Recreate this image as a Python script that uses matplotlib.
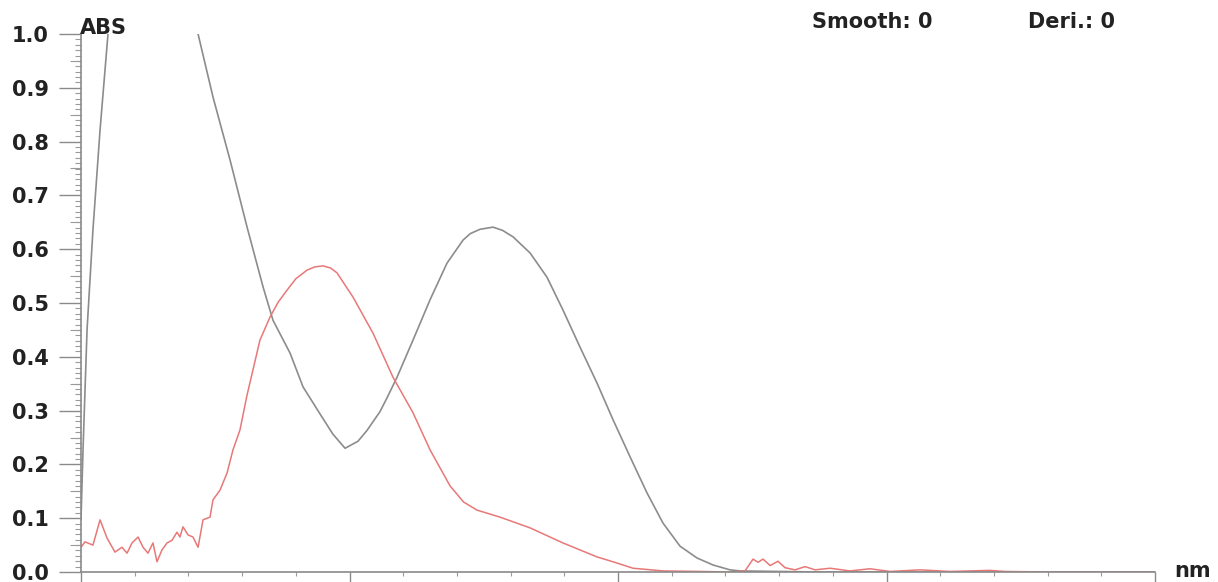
"""
UV-Vis absorbance spectra (two samples), instrument-style plot
"""

import numpy as np
import matplotlib
matplotlib.use('Agg')
import matplotlib.pyplot as plt
from matplotlib.ticker import MultipleLocator, NullFormatter

# wavelength (nm) / absorbance
gray_nm = [200.0, 201.5, 204.5, 208.9, 214.2, 220.1, 232.8, 266.0, 287.2,
           298.3, 311.0, 323.7, 335.6, 343.0, 355.7, 365.4, 378.0, 387.7,
           396.7, 406.3, 413.0, 422.7, 428.0, 435.4, 447.3, 460.0, 472.6,
           484.6, 490.0, 497.2, 506.9, 514.0, 521.8, 534.5, 547.1, 559.0,
           571.7, 584.4, 596.3, 609.0, 621.6, 633.5, 646.2, 658.9, 670.8,
           683.4, 690.9, 750.0, 1000.0]
gray_abs = [0.097, 0.227, 0.450, 0.636, 0.822, 1.0, 1.4, 1.4, 1.0,
            0.883, 0.766, 0.641, 0.530, 0.468, 0.407, 0.344, 0.294, 0.256,
            0.230, 0.243, 0.263, 0.298, 0.324, 0.362, 0.431, 0.506, 0.574,
            0.617, 0.629, 0.637, 0.641, 0.635, 0.623, 0.593, 0.548, 0.487,
            0.418, 0.351, 0.283, 0.214, 0.147, 0.091, 0.048, 0.026, 0.013,
            0.004, 0.002, 0.0, 0.0]

red_nm = [200.0, 203.0, 208.9, 214.2, 219.4, 225.3, 230.5, 234.3, 238.0,
          242.5, 246.2, 249.9, 253.6, 256.6, 260.3, 264.1, 267.8, 271.5,
          273.7, 276.0, 279.7, 283.4, 287.2, 290.9, 296.1, 298.3, 303.5,
          308.8, 313.2, 318.4, 323.7, 333.3, 340.8, 347.0, 353.5, 360.0,
          368.3, 374.0, 380.3, 386.0, 390.7, 402.6, 417.5, 432.4, 447.3,
          460.0, 474.9, 485.0, 495.0, 512.1, 534.5, 559.0, 584.4, 596.3,
          611.2, 633.5, 661.1, 683.4, 694.6, 700.6, 704.3, 708.0, 713.3,
          719.2, 724.4, 731.9, 739.3, 746.8, 758.0, 772.8, 787.7, 802.6,
          825.0, 847.3, 877.1, 888.3, 921.8, 1000.0]
red_abs = [0.046, 0.056, 0.050, 0.097, 0.063, 0.037, 0.046, 0.035, 0.054,
           0.065, 0.046, 0.035, 0.054, 0.019, 0.041, 0.054, 0.059, 0.074,
           0.065, 0.084, 0.069, 0.065, 0.046, 0.097, 0.102, 0.134, 0.152,
           0.184, 0.227, 0.264, 0.329, 0.431, 0.474, 0.502, 0.524, 0.545,
           0.561, 0.567, 0.569, 0.565, 0.556, 0.511, 0.444, 0.362, 0.296,
           0.227, 0.160, 0.130, 0.115, 0.102, 0.082, 0.054, 0.028, 0.019,
           0.007, 0.002, 0.001, 0.0, 0.002, 0.024, 0.018, 0.024, 0.012,
           0.020, 0.008, 0.004, 0.010, 0.004, 0.007, 0.002, 0.006, 0.001,
           0.004, 0.001, 0.003, 0.001, 0.0, 0.0]

W, H = 1218, 582
fig = plt.figure(figsize=(W / 100, H / 100), dpi=100)
ax = fig.add_axes([81 / W, 10 / H, 1074 / W, 538 / H])

ax.plot(gray_nm, gray_abs, color='#8c8c8c', lw=1.2)
ax.plot(red_nm, red_abs, color='#e87878', lw=1.1)

ax.set_xlim(200, 1000)
ax.set_ylim(0, 1.0)

for s in ['top', 'right']:
    ax.spines[s].set_visible(False)
for s in ['left', 'bottom']:
    ax.spines[s].set_color('#8a8a8a')
    ax.spines[s].set_linewidth(1.2)

ax.yaxis.set_major_locator(MultipleLocator(0.1))
ax.yaxis.set_minor_locator(MultipleLocator(0.01))
ax.xaxis.set_major_locator(MultipleLocator(200))
ax.xaxis.set_minor_locator(MultipleLocator(40))
ax.xaxis.set_major_formatter(NullFormatter())
ax.yaxis.set_major_formatter(lambda v, p: f"{v:.1f}")

ax.tick_params(axis='y', which='major', direction='out', length=16, width=1,
               color='#8a8a8a', pad=7, labelsize=15, labelcolor='#222222')
ax.tick_params(axis='y', which='minor', direction='out', length=4, width=0.8,
               color='#9a9a9a')
ax.tick_params(axis='x', which='major', direction='out', length=7, width=1,
               color='#8a8a8a')
ax.tick_params(axis='x', which='minor', direction='out', length=3, width=0.8,
               color='#9a9a9a')
for lab in ax.get_yticklabels():
    lab.set_fontweight('bold')

# mid ticks at every 0.05
sec = ax.secondary_yaxis('left')
sec.spines['left'].set_visible(False)
sec.set_yticks(np.arange(0.05, 1.0, 0.1))
sec.yaxis.set_major_formatter(NullFormatter())
sec.tick_params(axis='y', direction='out', length=8, width=0.8, color='#9a9a9a')

txt = dict(fontweight='bold', fontsize=15, color='#222222', va='center')
fig.text(80 / W, 1 - 28 / H, 'ABS', ha='left', **txt)
fig.text(812 / W, 1 - 22 / H, 'Smooth: 0', ha='left', **txt)
fig.text(1028 / W, 1 - 22 / H, 'Deri.: 0', ha='left', **txt)
fig.text(1174 / W, 1 - 571 / H, 'nm', ha='left', **txt)

fig.savefig('out.png', dpi=100)
